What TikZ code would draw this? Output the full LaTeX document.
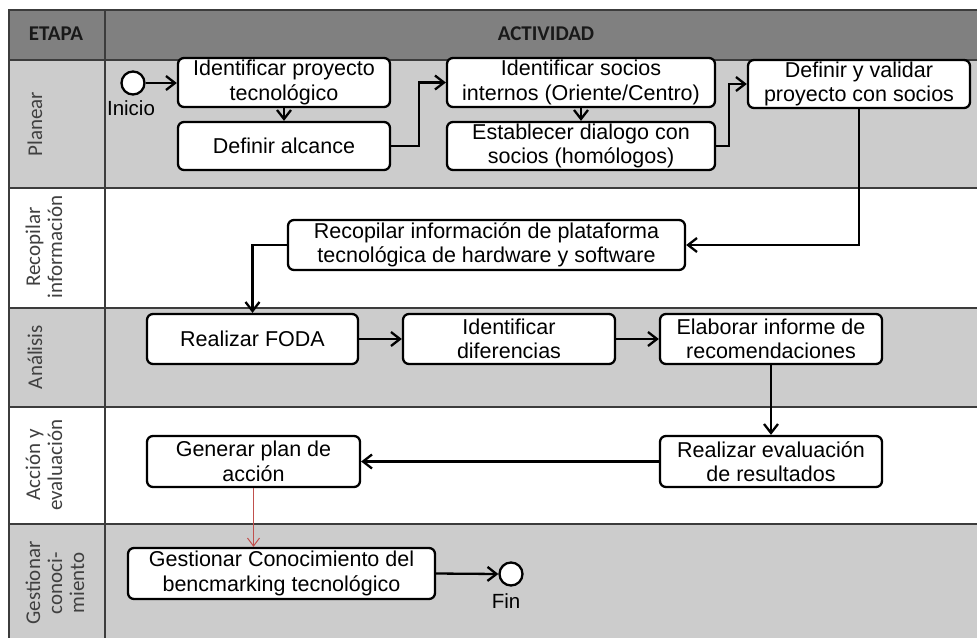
\documentclass[tikz,border=0pt]{standalone}
\usepackage{fontspec}
\setmainfont{Liberation Sans}
\newfontfamily\hdrfont{Carlito}
\usetikzlibrary{arrows.meta}
\definecolor{hdrgray}{RGB}{128,128,128}
\definecolor{rowgray}{RGB}{204,204,204}
\definecolor{gridline}{RGB}{60,60,60}
\definecolor{lblgray}{RGB}{64,64,64}
\definecolor{redline}{RGB}{192,80,77}
\tikzset{
  act/.style={draw=black, line width=2.3pt, rounded corners=6pt, fill=white,
    inner sep=0pt, align=center, font=\fontsize{21.5}{24.5}\selectfont},
  evt/.style={circle, draw=black, line width=2.3pt, fill=white, minimum size=23pt, inner sep=0pt},
  flow/.style={line width=2.3pt, -{Straight Barb[length=9pt,width=14pt,line width=2.3pt]}},
  redflow/.style={line width=1pt, draw=redline, -{Straight Barb[length=8pt,width=12pt,line width=1pt]}},
  grid/.style={draw=gridline, line width=1.3pt},
  lane/.style={rotate=90, align=center, text=lblgray, font=\hdrfont\fontsize{21}{22}\selectfont},
  hdr/.style={font=\hdrfont\bfseries\fontsize{21}{22}\selectfont, text=black!90}
}
\begin{document}
\begin{tikzpicture}[x=1pt,y=-1pt]
\useasboundingbox (0,0) rectangle (977,638);
% lanes
\fill[hdrgray] (9,10) rectangle (977,60);
\fill[rowgray] (9,60) rectangle (977,188);
\fill[rowgray] (9,308) rectangle (977,407);
\fill[rowgray] (9,524) rectangle (977,638);
\draw[grid] (977,10) -- (9,10) -- (9,638);
\draw[grid] (105,10) -- (105,638);
\foreach \yy in {60,188,308,407,524} \draw[grid] (9,\yy) -- (977,\yy);
% headers
\node[hdr] (hE) at (56,34) {ETAPA};
\node[hdr] (hA) at (546,34) {ACTIVIDAD};
\node[lane] (l1) at (35,124) {Planear};
\node[lane] (l2) at (44,247) {Recopilar\\información};
\node[lane] (l3) at (35,357) {Análisis};
\node[lane] (l4) at (44,465) {Acción y\\evaluación};
\node[lane] (l5) at (55,583) {Gestionar\\conoci-\\miento};
% activities
\node[act, minimum width=212pt, minimum height=49pt] (p1) at (284,82.5) {Identificar proyecto\\tecnológico};
\node[act, minimum width=212pt, minimum height=48pt] (p2) at (284,146) {Definir alcance};
\node[act, minimum width=268pt, minimum height=49pt] (p3) at (581,82.5) {Identificar socios\\internos (Oriente/Centro)};
\node[act, minimum width=268pt, minimum height=48pt] (p4) at (581,146) {Establecer dialogo con\\socios (homólogos)};
\node[act, minimum width=222pt, minimum height=48pt] (p5) at (859,84) {Definir y validar\\proyecto con socios};
\node[act, minimum width=397pt, minimum height=50pt] (r1) at (486.5,245) {Recopilar información de plataforma\\tecnológica de hardware y software};
\node[act, minimum width=211pt, minimum height=50pt] (a1) at (252.5,339) {Realizar FODA};
\node[act, minimum width=212pt, minimum height=50pt] (a2) at (509,339) {Identificar\\diferencias};
\node[act, minimum width=222pt, minimum height=50pt] (a3) at (771,339) {Elaborar informe de\\recomendaciones};
\node[act, minimum width=222pt, minimum height=51pt] (e1) at (771,461.5) {Realizar evaluación\\de resultados};
\node[act, minimum width=213pt, minimum height=51pt] (e2) at (253.5,461.5) {Generar plan de\\acción};
\node[act, minimum width=307pt, minimum height=51pt] (g1) at (281.5,573.5) {Gestionar Conocimiento del\\bencmarking tecnológico};
\node[evt] (st) at (133,83) {};
\node[evt] (en) at (511,574) {};
\node[font=\fontsize{20.5}{22}\selectfont, anchor=center] (stl) at (131,108) {Inicio};
\node[font=\fontsize{20.5}{22}\selectfont, anchor=center] (enl) at (506,601) {Fin};
% connectors
\draw[flow] (st) -- (p1.west |- st);
\draw[flow] (p1.south) -- (p2.north);
\draw[flow] (p2.east) -- ([xshift=28pt]p2.east) |- (p3.west);
\draw[flow] (p3.south) -- (p4.north);
\draw[flow] (p4.east) -- ([xshift=13pt]p4.east) |- (p5.west);
\draw[flow] (p5.south) |- (r1.east);
\draw[flow] (r1.west) -| (a1.north);
\draw[flow] (a1.east) -- (a2.west);
\draw[flow] (a2.east) -- (a3.west);
\draw[flow] (a3.south) -- (e1.north);
\draw[flow] (e1.west) -- (e2.east);
\draw[redflow] (e2.south) -- (e2.south |- g1.north);
\draw[flow] (g1.east) -- (en.west);
\end{tikzpicture}
\end{document}
